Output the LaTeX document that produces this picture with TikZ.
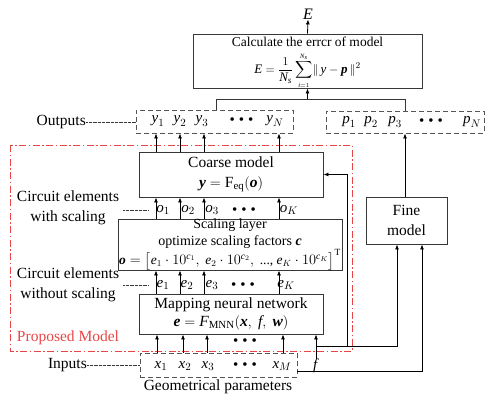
\documentclass[tikz,border=0pt]{standalone}
\usepackage{amsmath}
\usepackage{fontspec}
\setmainfont{Liberation Serif}
\usetikzlibrary{arrows.meta,calc}
\definecolor{bordc}{RGB}{55,55,55}
\definecolor{dashc}{RGB}{85,85,85}
\definecolor{redc}{RGB}{232,70,70}
\newcommand\myi[1]{\textit{#1}}
\newcommand\myb[1]{\textbf{\textit{#1}}}
\newcommand\mydots{\textbullet\hspace{4pt}\textbullet\hspace{4pt}\textbullet}
\begin{document}
\begin{tikzpicture}[x=1pt,y=-1pt,
  box/.style={draw=bordc, line width=0.9pt, inner sep=0pt, align=center, font=\fontsize{15.5}{20}\selectfont},
  dbox/.style={draw=dashc, line width=0.9pt, dash pattern=on 5pt off 3pt, inner sep=0pt},
  lbl/.style={inner sep=0pt, font=\fontsize{15.5}{20}\selectfont, align=center},
  sub/.style={inner sep=0pt, font=\fontsize{15}{18}\selectfont},
  arr/.style={draw=black, line width=0.8pt, -{Latex[length=5pt,width=4pt]}},
  ln/.style={draw=bordc, line width=0.9pt},
  dotl/.style={draw=bordc, line width=0.6pt, dash pattern=on 0.6pt off 0.7pt},
  redd/.style={draw=redc, line width=0.9pt, dash pattern=on 7pt off 2.5pt on 1.5pt off 2.5pt}
]
\useasboundingbox (0,0) rectangle (500,400);
% boxes
\node[box, minimum width=229pt, minimum height=54pt] (err) at (307.5,61) {};
\node[lbl, font=\fontsize{13.5}{16}\selectfont] (errt) at (307.5,41.5) {Calculate the errcr of model};
\node[lbl, font=\fontsize{13}{15}\selectfont] (errf) at (307.5,70.5)
  {$\displaystyle \myi{E}=\frac{1}{\myi{N}_{\myi{s}}}\sum\limits_{\scriptscriptstyle \myi{i}=1}^{\scriptscriptstyle \myi{N}_{\myi{s}}}\lVert\, \myi{y}-\myb{p}\,\rVert^{2}$};
\node[lbl, font=\fontsize{16}{18}\selectfont] (E) at (308,14) {\myi{E}};
\node[dbox, minimum width=157pt, minimum height=23pt] (ybox) at (214.5,121.5) {};
\node[dbox, minimum width=158pt, minimum height=22pt] (pbox) at (405,122) {};
\draw[redd] (10,145) rectangle (352,351);
\node[box, minimum width=184pt, minimum height=45pt] (coarse) at (231,174.5)
  {Coarse model\\$\myb{y}=\textup{F}_{\textup{eq}}(\myb{o})$};
\node[box, minimum width=224pt, minimum height=51pt, font=\fontsize{14}{16.5}\selectfont] (scale) at (230,244.5)
  {Scaling layer\\optimize scaling factors \myb{c}\\
   {\fontsize{13.5}{16}\selectfont$\myb{o}=\bigl[\myi{e}_1\cdot 10^{\myi{c}_1},\ \myi{e}_2\cdot 10^{\myi{c}_2},\ \text{...,}\ \myi{e}_K\cdot 10^{\myi{c}_K}\bigr]^{\textup{T}}$}};
\node[box, minimum width=184pt, minimum height=40pt, font=\fontsize{15.5}{18}\selectfont] (mnn) at (231,314)
  {Mapping neural network\\$\myb{e}=\myi{F}_{\textup{MNN}}(\myb{x},\ \myi{f},\ \myb{w})$};
\node[dbox, minimum width=157pt, minimum height=24pt] (inbox) at (218.5,365) {};
\node[box, minimum width=81pt, minimum height=47pt] (fine) at (406.5,220.5) {Fine\\model};
% labels in boxes
\node[sub] (y1) at (158,121) {$\myi{y}_1$};
\node[sub] (y2) at (180,121) {$\myi{y}_2$};
\node[sub] (y3) at (202,121) {$\myi{y}_3$};
\node[sub] (yd) at (241.5,121) {\mydots};
\node[sub] (yN) at (275,121) {$\myi{y}_N$};
\node[sub] (p1) at (349,122) {$\myi{p}_1$};
\node[sub] (p2) at (371,122) {$\myi{p}_2$};
\node[sub] (p3) at (395,122) {$\myi{p}_3$};
\node[sub] (pd) at (431,122) {\mydots};
\node[sub] (pN) at (472,122) {$\myi{p}_N$};
\node[sub] (o1) at (163,210) {$\myi{o}_1$};
\node[sub] (o2) at (188,210) {$\myi{o}_2$};
\node[sub] (o3) at (212,210) {$\myi{o}_3$};
\node[sub] (od) at (244,211) {\mydots};
\node[sub] (oK) at (289,210) {$\myi{o}_K$};
\node[sub] (e1) at (163,285) {$\myi{e}_1$};
\node[sub] (e2) at (187,285) {$\myi{e}_2$};
\node[sub] (e3) at (212,285) {$\myi{e}_3$};
\node[sub] (ed) at (243,286) {\mydots};
\node[sub] (eK) at (286,285) {$\myi{e}_K$};
\node[sub] (md) at (245,342) {\mydots};
\node[sub] (x1) at (161,366) {$\myi{x}_1$};
\node[sub] (x2) at (185,366) {$\myi{x}_2$};
\node[sub] (x3) at (208,366) {$\myi{x}_3$};
\node[sub] (xd) at (245,366) {\mydots};
\node[sub] (xM) at (282,366) {$\myi{x}_M$};
\node[sub] (f) at (316,366) {\myi{f}};
% side labels
\node[lbl, anchor=east] (outl) at (86,122) {Outputs};
\node[lbl] (cws) at (68,208) {Circuit elements\\with scaling};
\node[lbl] (cwo) at (68,285) {Circuit elements\\without scaling};
\node[lbl, text=redc] (prop) at (68,338) {Proposed Model};
\node[lbl, anchor=east] (inl) at (87,365) {Inputs};
\node[lbl] (geo) at (218,387) {Geometrical parameters};
\draw[dotl] (outl.east) -- (ybox.west |- outl.east);
\draw[dotl] (inl.east) -- (inbox.west |- inl.east);
\coordinate (dw) at (123,0);
\coordinate (de) at (148,0);
\draw[dotl] (dw |- 0,210) -- (de |- 0,210);
\draw[dotl] (dw |- 0,285) -- (de |- 0,285);
% vertical arrow columns
\coordinate (ua) at (156,0);
\coordinate (ub) at (180,0);
\coordinate (uc) at (204,0);
\coordinate (ud) at (279,0);
\coordinate (la) at (157,0);
\coordinate (lb) at (183,0);
\coordinate (lc) at (207,0);
\coordinate (ld) at (283,0);
\foreach \c in {ua,ub,uc,ud} {
  \draw[arr] (coarse.north -| \c) -- (ybox.south -| \c);
  \draw[arr] (scale.north -| \c) -- (coarse.south -| \c);
  \draw[arr] (mnn.north -| \c) -- (scale.south -| \c);
}
\foreach \c in {la,lb,lc,ld}
  \draw[arr] (inbox.north -| \c) -- (mnn.south -| \c);
% top connections
\coordinate (tj) at (216,99);
\coordinate (pj) at (405,99);
\draw[ln] (ybox.north -| tj) -- (tj) -- (pj) -- (pbox.north -| pj);
\draw[arr] (err.south |- tj) -- (err.south);
\draw[arr] (err.north) -- (E.south);
\draw[arr] (fine.north -| pj) -- (pbox.south -| pj);
% f and inputs to the fine model
\coordinate (fb) at (316,346);
\coordinate (fa) at (397,0);
\coordinate (fc) at (422,0);
\coordinate (cr) at (347,0);
\draw[arr] (f.north) -- (mnn.south -| f.north);
\draw[arr] (fb) -- (fb -| fa) -- (fine.south -| fa);
\draw[arr] (fb -| cr) |- (coarse.east);
\coordinate (ie) at ($(inbox.east)+(0,6)$);
\draw[arr] (ie) -- (ie -| fc) -- (fine.south -| fc);
\end{tikzpicture}
\end{document}
